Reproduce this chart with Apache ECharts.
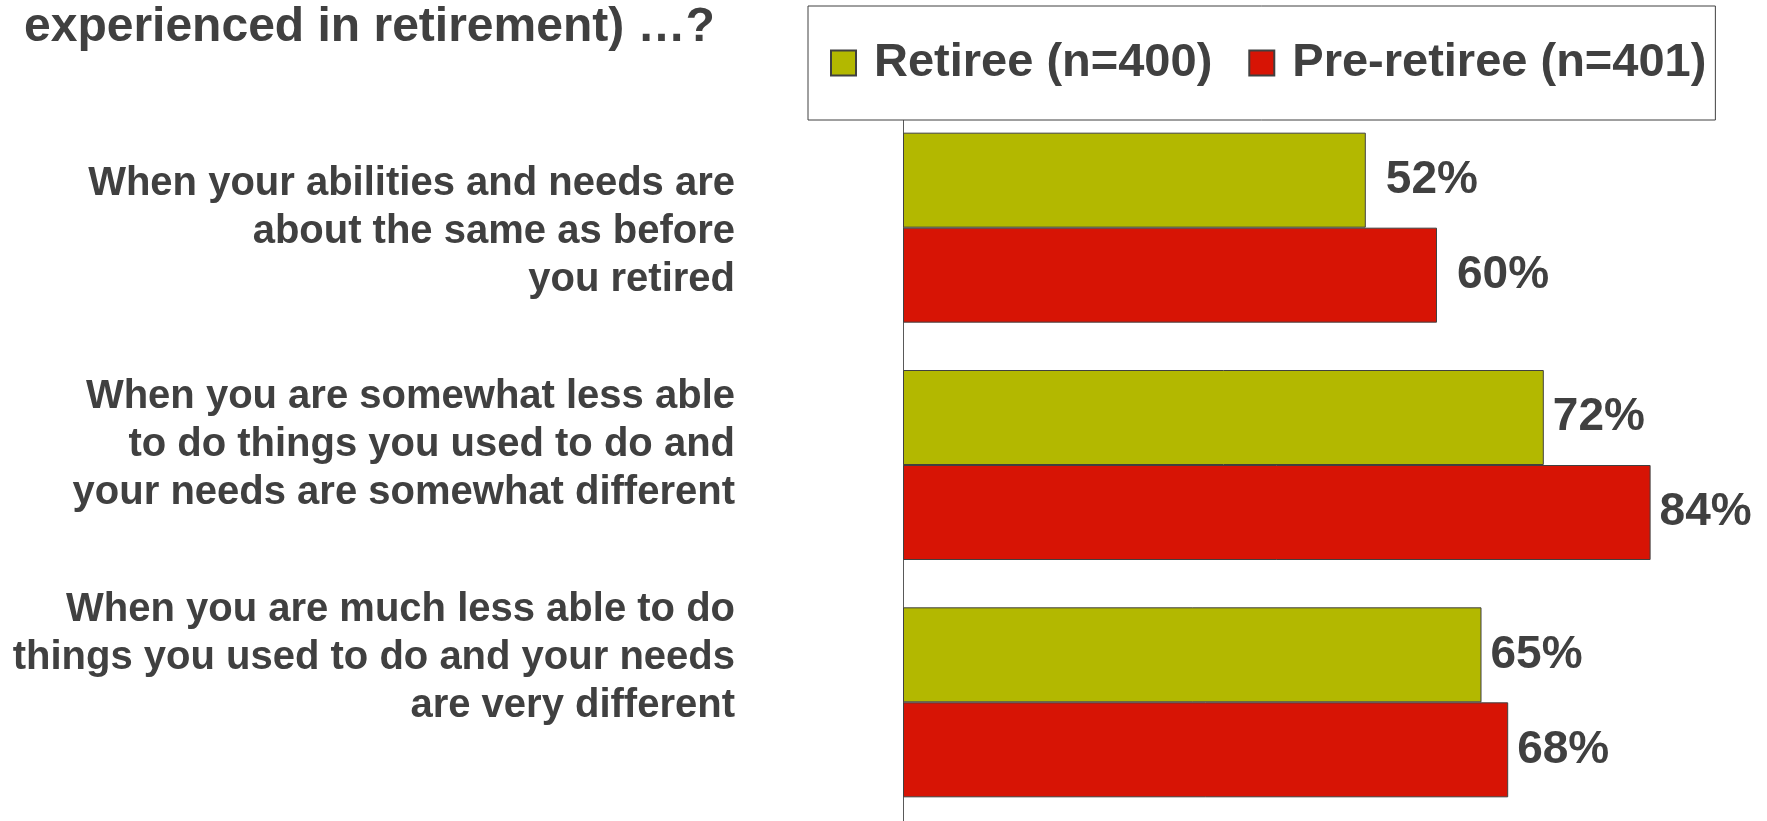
<!DOCTYPE html>
<html>
<head>
<meta charset="utf-8">
<script src="https://cdn.jsdelivr.net/npm/echarts@6/dist/echarts.min.js"></script>
<style>html,body{margin:0;padding:0;background:#fff;}#c{width:1767px;height:821px;}</style>
</head>
<body>
<div id="c"></div>
<script>
const categories = [
  'When your abilities and needs are\nabout the same as before\nyou retired',
  'When you are somewhat less able\nto do things you used to do and\nyour needs are somewhat different',
  'When you are much less able to do\nthings you used to do and your needs\nare very different'
];
const seriesNames = ['Retiree (n=400)', 'Pre-retiree (n=401)'];
const retiree = [52, 72, 65];
const preRetiree = [60, 84, 68];
const titleText = 'experienced in retirement) \u2026?';

// label gap from bar end per category (styling only)
const labelGap = [20, 9, 9];

const FONT = '"Liberation Sans", Arial, sans-serif';
const TXT = '#404040';
const valueLabel = {show: true, position: 'right', formatter: '{c}%',
  fontFamily: FONT, fontSize: 46, fontWeight: 'bold', color: TXT};
function withGap(arr) {
  return arr.map((v, i) => ({value: v, label: {distance: labelGap[i]}}));
}

const chart = echarts.init(document.getElementById('c'), null, {renderer: 'canvas'});
chart.setOption({
  animation: false,
  backgroundColor: '#ffffff',
  title: {
    text: titleText,
    left: 24, top: 3,
    padding: 0,
    textStyle: {fontFamily: FONT, fontSize: 48, fontWeight: 'bold', color: TXT, lineHeight: 50}
  },
  legend: {
    data: seriesNames,
    left: 808, top: 6,
    padding: [32, 9, 32, 22],
    itemWidth: 25, itemHeight: 25, itemGap: 36,
    icon: 'rect',
    backgroundColor: '#ffffff',
    borderColor: '#404040', borderWidth: 1,
    z: 10,
    textStyle: {fontFamily: FONT, fontSize: 47, fontWeight: 'bold', color: TXT, lineHeight: 50, padding: [0, 0, 0, 13]}
  },
  grid: [
    {left: 903, top: 109, width: 801, height: 717},
    {left: 745, top: 125, width: 10, height: 639}
  ],
  xAxis: [
    {type: 'value', gridIndex: 0, min: 0, max: 90, show: false},
    {type: 'value', gridIndex: 1, min: 0, max: 1, show: false}
  ],
  yAxis: [
    {
      type: 'category', gridIndex: 0, data: categories, inverse: true,
      axisLine: {show: true, lineStyle: {color: '#595959', width: 1}},
      axisTick: {show: false}, axisLabel: {show: false}, splitLine: {show: false}
    },
    {
      type: 'category', gridIndex: 1, data: categories, inverse: true,
      axisLine: {show: false}, axisTick: {show: false}, splitLine: {show: false},
      axisLabel: {
        show: true, margin: 10, align: 'right',
        fontFamily: FONT, fontSize: 40, fontWeight: 'bold', color: TXT, lineHeight: 48
      }
    }
  ],
  series: [
    {
      name: seriesNames[0], type: 'bar', xAxisIndex: 0, yAxisIndex: 0,
      data: withGap(retiree), barWidth: 95, barGap: '0%',
      itemStyle: {color: '#B3B800', borderColor: '#404040', borderWidth: 1},
      label: valueLabel
    },
    {
      name: seriesNames[1], type: 'bar', xAxisIndex: 0, yAxisIndex: 0,
      data: withGap(preRetiree), barWidth: 95, barGap: '0%',
      itemStyle: {color: '#D71405', borderColor: '#404040', borderWidth: 1},
      label: valueLabel
    }
  ]
});
</script>
</body>
</html>
